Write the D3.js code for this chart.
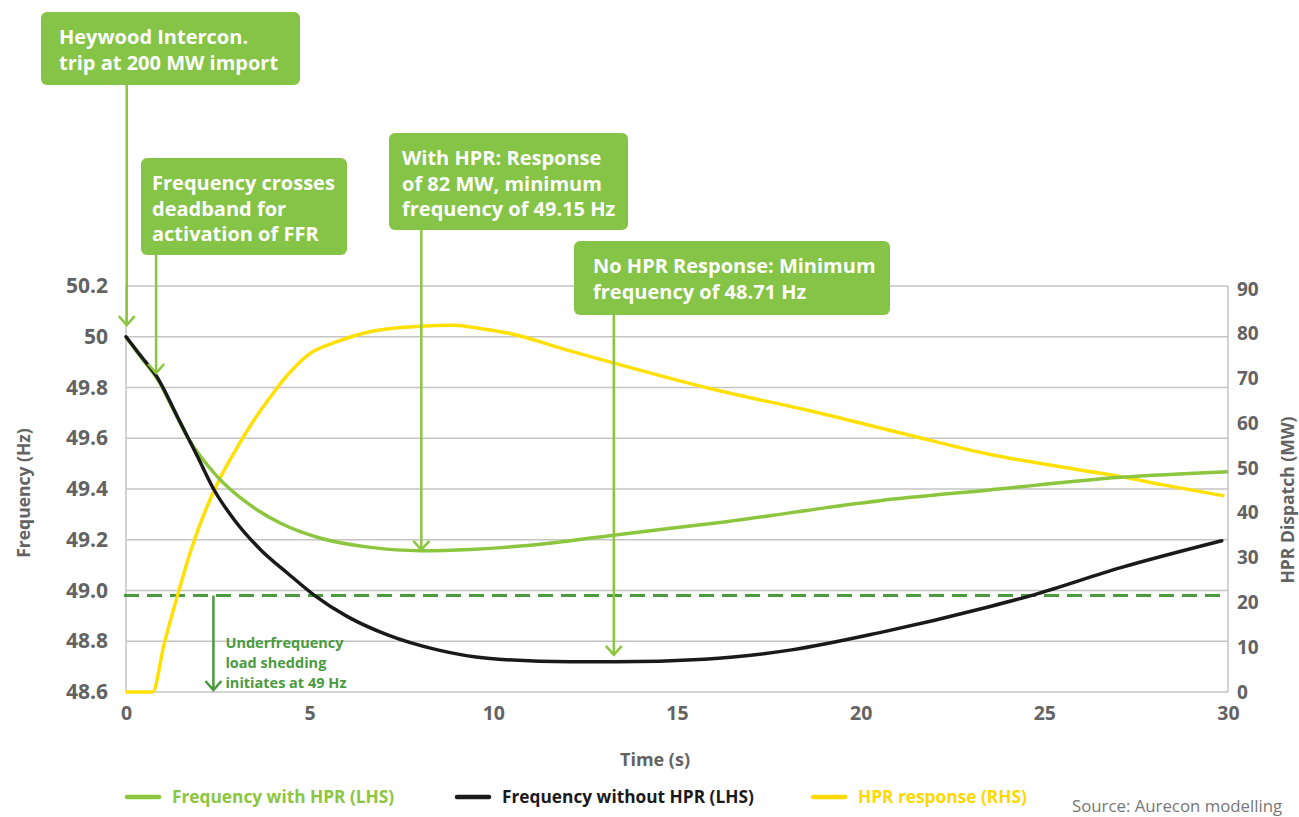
<!DOCTYPE html>
<html>
<head>
<meta charset="utf-8">
<script src="https://cdn.jsdelivr.net/npm/d3@7"></script>
<style>
  body { margin: 0; background: #fff; }
  svg { display: block; font-family: "Open Sans", Lato, sans-serif; }
</style>
</head>
<body>
<svg id="chart" width="1299" height="817"></svg>
<script>
// values

// frequency with HPR (Hz, left axis)
const withTime = [0, 0.4, 0.86, 1.40, 1.68, 2.49, 3.31, 4.21, 5.30, 6.66, 8.02, 9.38, 10.74, 12.1, 13.32, 16.34, 20.52, 23.5, 27.08, 30]
const withFreq = [50.0, 49.92, 49.832, 49.68, 49.603, 49.448, 49.344, 49.265, 49.206, 49.17, 49.157, 49.162, 49.175, 49.196, 49.219, 49.271, 49.354, 49.396, 49.446, 49.468]

// frequency without HPR (Hz, left axis)
const withoutTime = [0, 0.4, 0.86, 1.40, 1.95, 2.40, 2.95, 3.67, 4.40, 5.12, 6.03, 7.12, 8.48, 9.84, 12.1, 13.32, 15.74, 18.12, 20.52, 23.5, 24.69, 27.08, 29.83]
const withoutFreq = [50.0, 49.925, 49.838, 49.685, 49.527, 49.396, 49.278, 49.16, 49.068, 48.982, 48.897, 48.825, 48.766, 48.733, 48.719, 48.719, 48.729, 48.766, 48.834, 48.936, 48.982, 49.09, 49.196]

// HPR response (MW, right axis)
const hprTime = [0, 0.72, 1.04, 1.40, 1.77, 2.13, 2.58, 3.04, 3.49, 3.94, 4.40, 4.94, 5.76, 6.66, 8.02, 8.93, 9.63, 10.54, 11.99, 13.26, 15.98, 18.62, 21.11, 23.5, 25.89, 27.08, 28.27, 29.9]
const hprMW = [0, 0, 10.8, 21.5, 31.7, 39.9, 48.1, 54.8, 60.8, 66.0, 70.8, 75.2, 78.3, 80.5, 81.7, 81.9, 81.2, 79.9, 76.4, 73.5, 67.6, 62.8, 57.8, 53.1, 49.7, 48.1, 46.2, 43.8]

const sheddingLevel = 48.98

const xTicks = [0, 5, 10, 15, 20, 25, 30]
const leftTicks = [50.2, 50, 49.8, 49.6, 49.4, 49.2, 49.0, 48.8, 48.6]
const leftTickLabels = ['50.2', '50', '49.8', '49.6', '49.4', '49.2', '49.0', '48.8', '48.6']
const rightTicks = [0, 10, 20, 30, 40, 50, 60, 70, 80, 90]

const legendNames = ['Frequency with HPR (LHS)', 'Frequency without HPR (LHS)', 'HPR response (RHS)']

// callouts: text + where the arrow points (time, Hz)
const notes = [
    { lines: ['Heywood Intercon.', 'trip at 200 MW import'], t: 0.02, f: 50.046 },
    { lines: ['Frequency crosses', 'deadband for', 'activation of FFR'], t: 0.82, f: 49.857 },
    { lines: ['With HPR: Response', 'of 82 MW, minimum', 'frequency of 49.15 Hz'], t: 8.04, f: 49.16 },
    { lines: ['No HPR Response: Minimum', 'frequency of 48.71 Hz'], t: 13.28, f: 48.746 }
]
const sheddingNote = { lines: ['Underfrequency', 'load shedding', 'initiates at 49 Hz'], t: 2.38 }

// layout
const boxes = [
    { x: 41, y: 12, w: 259, h: 73, pad: 18 },
    { x: 141, y: 158, w: 206, h: 97, pad: 11 },
    { x: 389, y: 133, w: 239, h: 97, pad: 13 },
    { x: 574, y: 241, w: 316, h: 74, pad: 19 }
]
const colors = { green: '#8cc63f', black: '#1a1a1a', yellow: '#ffe000', box: '#85c446', dark: '#4b9a3e', grid: '#c4c4c4', text: '#636363' }

const svg = d3.select('#chart')

const x = d3.scaleLinear().domain([0, 30]).range([126, 1228])
const yL = d3.scaleLinear().domain([48.6, 50.2]).range([692, 286])
const yR = d3.scaleLinear().domain([0, 90]).range([692, 289])

// grid
svg.append('g')
    .selectAll('line')
    .data(leftTicks)
    .join('line')
    .attr('x1', x(0)).attr('x2', x(30))
    .attr('y1', d => yL(d)).attr('y2', d => yL(d))
    .attr('stroke', colors.grid).attr('stroke-width', 1.5)

svg.append('line')
    .attr('x1', x(0)).attr('x2', x(0)).attr('y1', yL(50.2)).attr('y2', yL(48.6))
    .attr('stroke', colors.grid).attr('stroke-width', 1.5)
svg.append('line')
    .attr('x1', x(30)).attr('x2', x(30)).attr('y1', yL(50.2)).attr('y2', yL(48.6))
    .attr('stroke', colors.grid).attr('stroke-width', 1.5)

// axes
const leftAxis = d3.axisLeft(yL)
    .tickValues(leftTicks)
    .tickFormat((d, i) => leftTickLabels[i])
    .tickSize(0).tickPadding(18)
const gL = svg.append('g').attr('transform', `translate(${x(0)},0)`).call(leftAxis)

const rightAxis = d3.axisRight(yR).tickValues(rightTicks).tickSize(0).tickPadding(9)
const gR = svg.append('g').attr('transform', `translate(${x(30)},0)`).call(rightAxis)

const bottomAxis = d3.axisBottom(x).tickValues(xTicks).tickSize(0).tickPadding(14)
const gB = svg.append('g').attr('transform', `translate(0,${yL(48.6)})`).call(bottomAxis)

;[gL, gR, gB].forEach(g => {
    g.select('.domain').remove()
    g.selectAll('text')
        .attr('fill', colors.text)
        .style('font-family', '"Open Sans", sans-serif')
        .style('font-weight', 700)
})
gL.selectAll('text').style('font-size', '21px')
gR.selectAll('text').style('font-size', '19px')
gB.selectAll('text').style('font-size', '19.5px')

// axis titles
svg.append('text')
    .attr('transform', 'translate(30,493) rotate(-90)')
    .attr('text-anchor', 'middle')
    .attr('fill', colors.text).attr('font-size', 17.5).attr('font-weight', 700)
    .text('Frequency (Hz)')
svg.append('text')
    .attr('transform', 'translate(1294,500) rotate(-90)')
    .attr('text-anchor', 'middle')
    .attr('fill', colors.text).attr('font-size', 17.5).attr('font-weight', 700)
    .text('HPR Dispatch (MW)')
svg.append('text')
    .attr('x', 655).attr('y', 766)
    .attr('text-anchor', 'middle')
    .attr('fill', colors.text).attr('font-size', 18).attr('font-weight', 700)
    .text('Time (s)')

// shedding threshold
svg.append('line')
    .attr('x1', x(0) - 2).attr('x2', x(30))
    .attr('y1', yL(sheddingLevel)).attr('y2', yL(sheddingLevel))
    .attr('stroke', colors.dark).attr('stroke-width', 3)
    .attr('stroke-dasharray', '15 8')

// series
const lineL = (ts, vs) => d3.line()
    .x((d, i) => x(ts[i]))
    .y(d => yL(d))
    .curve(d3.curveMonotoneX)(vs)
const lineR = d3.line()
    .x((d, i) => x(hprTime[i]))
    .y(d => yR(d))
    .curve(d3.curveMonotoneX)

svg.append('path').attr('d', lineR(hprMW))
    .attr('fill', 'none').attr('stroke', colors.yellow).attr('stroke-width', 3.5)
svg.append('path').attr('d', lineL(withTime, withFreq))
    .attr('fill', 'none').attr('stroke', colors.green).attr('stroke-width', 3.5)
svg.append('path').attr('d', lineL(withoutTime, withoutFreq))
    .attr('fill', 'none').attr('stroke', colors.black).attr('stroke-width', 3.5)
    .attr('stroke-linecap', 'round')

// arrows
function arrow(xPos, y0, y1, color) {
    const g = svg.append('g').attr('stroke', color).attr('stroke-width', 2.5).attr('fill', 'none')
    g.append('line').attr('x1', xPos).attr('x2', xPos).attr('y1', y0).attr('y2', y1)
    g.append('path').attr('d', `M${xPos - 8},${y1 - 9}L${xPos},${y1}L${xPos + 8},${y1 - 9}`)
}

notes.forEach((n, i) => {
    const b = boxes[i]
    arrow(x(n.t), b.y + b.h, yL(n.f), colors.green)
})

arrow(x(sheddingNote.t), yL(sheddingLevel), yL(48.6) - 2, colors.dark)
svg.append('text')
    .attr('x', x(sheddingNote.t) + 12).attr('y', 648)
    .attr('fill', colors.dark).attr('font-size', 14.5).attr('font-weight', 700)
    .selectAll('tspan')
    .data(sheddingNote.lines)
    .join('tspan')
    .attr('x', x(sheddingNote.t) + 12)
    .attr('dy', (d, i) => i ? 20 : 0)
    .text(d => d)

// callout boxes
notes.forEach((n, i) => {
    const b = boxes[i]
    svg.append('rect')
        .attr('x', b.x).attr('y', b.y).attr('width', b.w).attr('height', b.h)
        .attr('rx', 6).attr('fill', colors.box)
    svg.append('text')
        .attr('fill', '#fff').attr('font-size', 20).attr('font-weight', 700)
        .selectAll('tspan')
        .data(n.lines)
        .join('tspan')
        .attr('x', b.x + b.pad)
        .attr('y', (d, j) => b.y + 32 + j * 25.5)
        .text(d => d)
})

// legend
const legendColors = [colors.green, colors.black, '#ffd800']
const legendX = [127, 457, 813]
const legend = svg.append('g')
    .selectAll('g')
    .data(legendNames)
    .join('g')
    .attr('transform', (d, i) => `translate(${legendX[i]},797)`)
legend.append('line')
    .attr('x1', 0).attr('x2', 32)
    .attr('stroke', (d, i) => legendColors[i]).attr('stroke-width', 4.5)
    .attr('stroke-linecap', 'round')
legend.append('text')
    .attr('x', 45).attr('dy', '0.35em')
    .attr('fill', (d, i) => legendColors[i])
    .attr('font-size', 17.3).attr('font-weight', 700)
    .text(d => d)

svg.append('text')
    .attr('x', 1072).attr('y', 812)
    .attr('fill', '#777').attr('font-size', 16.8)
    .text('Source: Aurecon modelling')
</script>
</body>
</html>
